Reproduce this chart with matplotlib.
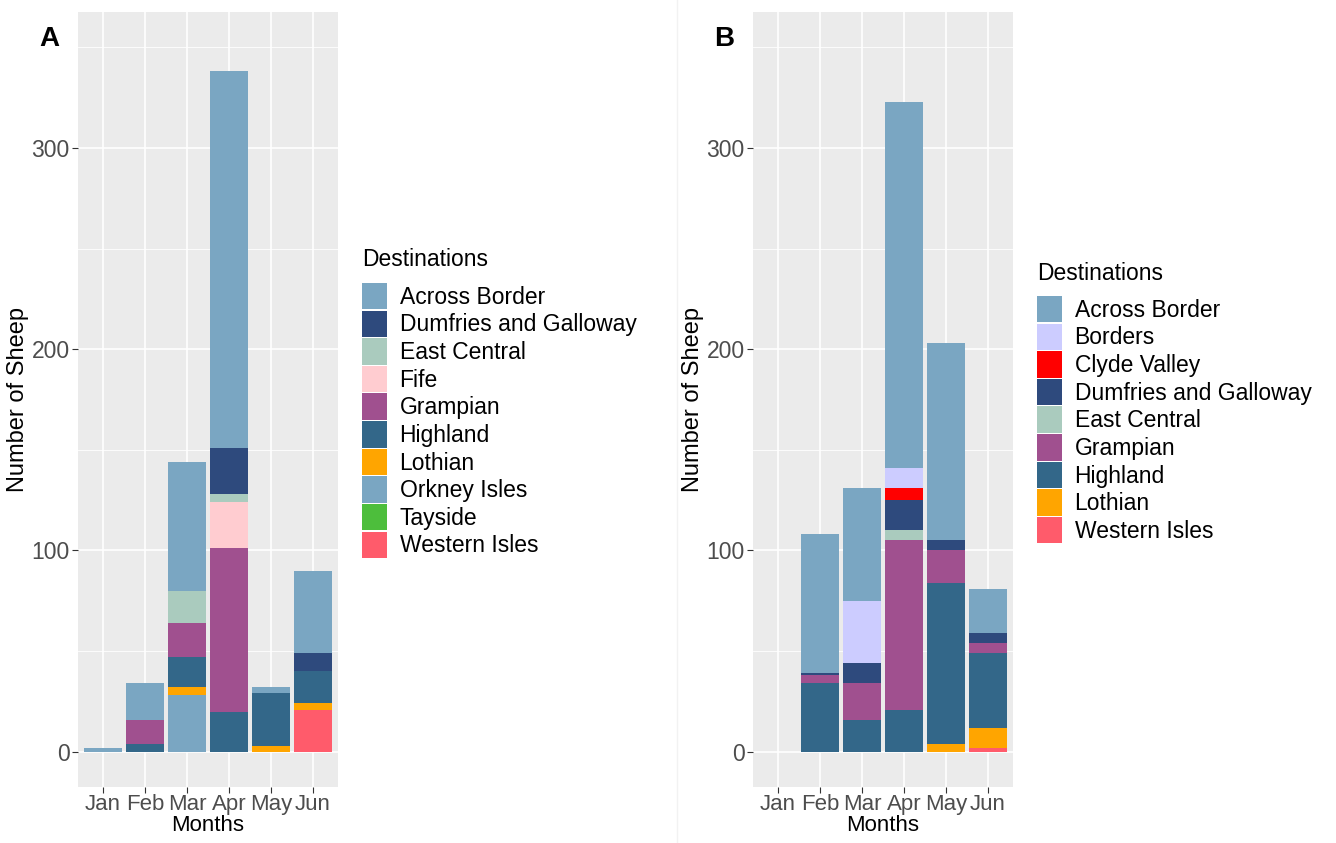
import matplotlib.pyplot as plt
from matplotlib.patches import Patch
import numpy as np

plt.rcParams['font.family'] = ['Liberation Sans', 'DejaVu Sans']

months = ["Jan", "Feb", "Mar", "Apr", "May", "Jun"]

# panel A - destinations (legend order, top of stack first)
dest_a = ["Across Border", "Dumfries and Galloway", "East Central", "Fife", "Grampian",
          "Highland", "Lothian", "Orkney Isles", "Tayside", "Western Isles"]
across_a = [2, 18, 64, 187, 3, 41]
dumfries_a = [0, 0, 0, 23, 0, 9]
eastcentral_a = [0, 0, 16, 4, 0, 0]
fife_a = [0, 0, 0, 23, 0, 0]
grampian_a = [0, 12, 17, 81, 0, 0]
highland_a = [0, 4, 15, 20, 26, 16]
lothian_a = [0, 0, 4, 0, 3, 3]
orkney_a = [0, 0, 28, 0, 0, 0]
tayside_a = [0, 0, 0, 0, 0, 0]
western_a = [0, 0, 0, 0, 0, 21]
vals_a = [across_a, dumfries_a, eastcentral_a, fife_a, grampian_a,
          highland_a, lothian_a, orkney_a, tayside_a, western_a]

# panel B
dest_b = ["Across Border", "Borders", "Clyde Valley", "Dumfries and Galloway", "East Central",
          "Grampian", "Highland", "Lothian", "Western Isles"]
across_b = [0, 69, 56, 182, 98, 22]
borders_b = [0, 0, 31, 10, 0, 0]
clyde_b = [0, 0, 0, 6, 0, 0]
dumfries_b = [0, 1, 10, 15, 5, 5]
eastcentral_b = [0, 0, 0, 5, 0, 0]
grampian_b = [0, 4, 18, 84, 16, 5]
highland_b = [0, 34, 16, 21, 80, 37]
lothian_b = [0, 0, 0, 0, 4, 10]
western_b = [0, 0, 0, 0, 0, 2]
vals_b = [across_b, borders_b, clyde_b, dumfries_b, eastcentral_b,
          grampian_b, highland_b, lothian_b, western_b]

colors = {
    "Across Border": "#7aa6c2",
    "Borders": "#ccccff",
    "Clyde Valley": "#ff0000",
    "Dumfries and Galloway": "#2e4a7d",
    "East Central": "#aacbbe",
    "Fife": "#ffccd0",
    "Grampian": "#a0508f",
    "Highland": "#336789",
    "Lothian": "#ffa500",
    "Orkney Isles": "#7aa6c2",
    "Tayside": "#4dbe3c",
    "Western Isles": "#ff5b6b",
}

fig = plt.figure(figsize=(13.36, 8.43), dpi=100)
W, H = 1336, 843


def panel(left_px, dests, vals, letter, title_y, leg_y):
    ax = fig.add_axes([left_px / W, (H - 787) / H, 260 / W, 775 / H])
    ax.set_facecolor("#ebebeb")
    x = np.arange(len(months))
    bottom = np.zeros(len(months))
    # stack from the last level upward, like ggplot
    for name, v in zip(dests[::-1], vals[::-1]):
        v = np.array(v, dtype=float)
        ax.bar(x, v, width=0.9, bottom=bottom, color=colors[name], linewidth=0, zorder=3)
        bottom += v
    ax.set_xlim(-0.6, 5.6)
    ax.set_ylim(-17.5, 367.5)
    ax.set_yticks([0, 100, 200, 300])
    ax.set_yticks([50, 150, 250, 350], minor=True)
    ax.set_xticks(x)
    ax.set_xticklabels(months)
    ax.grid(which="major", color="white", linewidth=1.2, zorder=0)
    ax.grid(which="minor", axis="y", color="white", linewidth=0.6, zorder=0)
    ax.tick_params(which="major", length=4, color="#333333", labelsize=16.5,
                   labelcolor="#4d4d4d", pad=2)
    ax.tick_params(axis="x", labelsize=16, pad=1)
    ax.tick_params(which="minor", length=0)
    for s in ax.spines.values():
        s.set_visible(False)
    ax.set_axisbelow(True)
    ax.set_ylabel("Number of Sheep", fontsize=17, labelpad=2)
    ax.set_xlabel("Months", fontsize=16, labelpad=0)
    fig.text((left_px - 39) / W, 1 - 39 / H, letter, fontsize=20, fontweight="bold",
             ha="left", va="center")
    # legend title drawn on its own, ggplot leaves a bigger gap under it
    leg_x = left_px + 284
    fig.text(leg_x / W, 1 - title_y / H, "Destinations", fontsize=16.5,
             ha="left", va="center")
    handles = [Patch(facecolor=colors[d], edgecolor="none") for d in dests]
    fig.legend(handles, dests, loc="upper left",
               bbox_to_anchor=(leg_x / W, 1 - leg_y / H),
               fontsize=16.5, frameon=False, handlelength=1.09, handleheight=1.4,
               labelspacing=0.05, handletextpad=0.55, borderpad=0,
               borderaxespad=0)
    return ax


panel(78, dest_a, vals_a, "A", 259, 283)
panel(753, dest_b, vals_b, "B", 273, 296)

fig.add_artist(plt.Line2D([677 / W, 677 / W], [0, 1], color="#f2f2f2", linewidth=1))

fig.savefig("out.png", dpi=100)
plt.close(fig)
